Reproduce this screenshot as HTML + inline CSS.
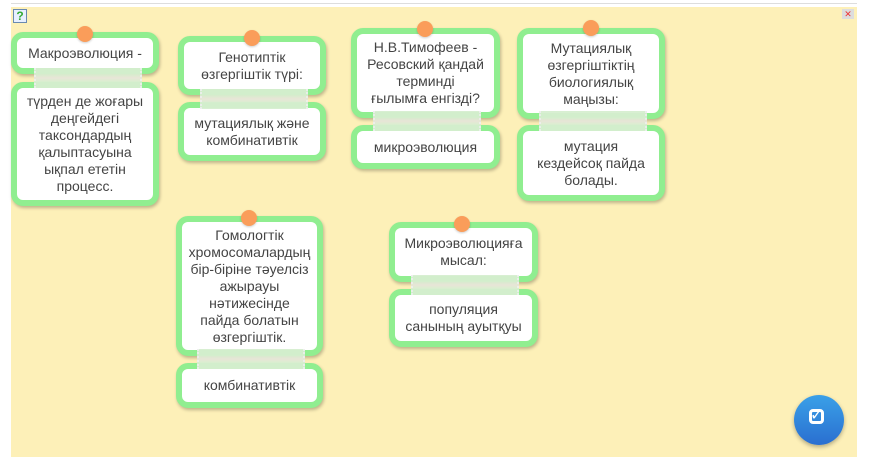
<!DOCTYPE html>
<html><head><meta charset="utf-8"><style>
body{margin:0;width:869px;height:460px;background:#fff;position:relative;overflow:hidden;font-family:"Liberation Sans","DejaVu Sans",sans-serif}
.bg{position:absolute;left:11px;top:7px;width:846px;height:450px;background:#fdf0b8;}
.line{position:absolute;left:11px;top:3px;width:846px;height:1px;background:#ddd}
.c{position:absolute;box-sizing:border-box;background:#fff;border:6px solid #90ee90;border-radius:12px;box-shadow:1px 2px 3px rgba(0,0,0,.25);display:flex;align-items:center;justify-content:center;text-align:center;color:#444;font-size:14px;line-height:17px;padding:0 10px}
.t{position:absolute;height:20px;width:104px;background:linear-gradient(#d6efd0 0,#d6efd0 30%,#e8e6da 50%,#d6efd0 70%,#d6efd0 100%);opacity:.95;border-left:2px dotted #eee;border-right:2px dotted #eee}
.p{position:absolute;width:16px;height:16px;border-radius:50%;background:#fa9d5a;box-shadow:0 1px 2px rgba(0,0,0,.2)}
</style></head><body>
<div class="line"></div>
<div class="bg"></div>
<div style="position:absolute;left:13px;top:9px;width:12px;height:12px;border:1px solid #6a8ab0;background:#e8f0ff;color:#3a3;font-weight:bold;font-size:12px;line-height:12px;text-align:center">?</div>
<div style="position:absolute;left:842px;top:9px;width:12px;height:10px;background:#ddd;color:#e33;font-size:9px;line-height:10px;text-align:center">✕</div>

<div class="c" style="left:11px;top:32px;width:148px;height:42px">Макроэволюция -</div>
<div class="c" style="left:11px;top:82px;width:148px;height:124px;padding:0 6px">түрден де жоғары деңгейдегі таксондардың қалыптасуына ықпал ететін процесс.</div>
<div class="t" style="left:34px;top:68px"></div>
<div class="p" style="left:77px;top:26px"></div>

<div class="c" style="left:178px;top:36px;width:148px;height:59px">Генотиптік өзгергіштік түрі:</div>
<div class="c" style="left:178px;top:102px;width:148px;height:59px">мутациялық және комбинативтік</div>
<div class="t" style="left:200px;top:89px"></div>
<div class="p" style="left:244px;top:30px"></div>

<div class="c" style="left:351px;top:28px;width:149px;height:90px">Н.В.Тимофеев - Ресовский қандай терминді ғылымға енгізді?</div>
<div class="c" style="left:351px;top:125px;width:149px;height:44px">микроэволюция</div>
<div class="t" style="left:373px;top:111px"></div>
<div class="p" style="left:417px;top:21px"></div>

<div class="c" style="left:517px;top:28px;width:148px;height:91px">Мутациялық өзгергіштіктің биологиялық маңызы:</div>
<div class="c" style="left:517px;top:125px;width:148px;height:76px">мутация кездейсоқ пайда болады.</div>
<div class="t" style="left:539px;top:111px"></div>
<div class="p" style="left:583px;top:20px"></div>

<div class="c" style="left:176px;top:216px;width:147px;height:140px;padding:0 6px">Гомологтік хромосомалардың бір-біріне тәуелсіз ажырауы нәтижесінде пайда болатын өзгергіштік.</div>
<div class="c" style="left:176px;top:363px;width:147px;height:45px">комбинативтік</div>
<div class="t" style="left:197px;top:349px"></div>
<div class="p" style="left:241px;top:210px"></div>

<div class="c" style="left:389px;top:222px;width:149px;height:60px">Микроэволюцияға мысал:</div>
<div class="c" style="left:389px;top:289px;width:149px;height:58px">популяция санының ауытқуы</div>
<div class="t" style="left:411px;top:275px"></div>
<div class="p" style="left:454px;top:216px"></div>

<div style="position:absolute;left:794px;top:395px;width:50px;height:50px;border-radius:50%;background:linear-gradient(#3aa0e8,#2a6fd0);box-shadow:0 2px 4px rgba(0,0,0,.3)"></div>
<div style="position:absolute;left:809px;top:409px;width:15px;height:15px;border:3px solid #fff;border-radius:4px;box-sizing:border-box"></div>
<div style="position:absolute;left:810px;top:405px;color:#fff;font-size:16px;font-weight:bold">✓</div>
</body></html>
